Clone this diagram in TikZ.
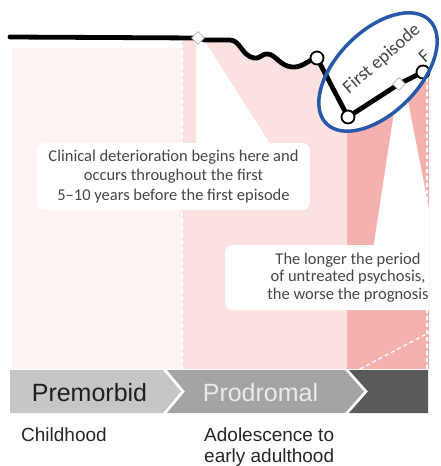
\documentclass[tikz,border=0pt]{standalone}
\usepackage{fontspec}
\setmainfont{Carlito}
\newfontfamily\arialf{Liberation Sans}
\usetikzlibrary{shapes.geometric}

\definecolor{faintpink}{RGB}{253,243,243}
\definecolor{prodpink}{RGB}{252,225,225}
\definecolor{episodepink}{RGB}{244,177,173}
\definecolor{notegray}{RGB}{70,70,70}
\definecolor{barA}{RGB}{198,198,198}
\definecolor{barB}{RGB}{164,164,164}
\definecolor{barC}{RGB}{90,90,90}
\definecolor{ringblue}{RGB}{40,88,168}

\tikzset{
  curve/.style={line width=4.8pt, black, line join=round, line cap=round},
  ringmark/.style={circle, draw=black, line width=1.8pt, fill=white,
    minimum size=13pt, inner sep=0pt},
  diamark/.style={diamond, draw=black!30, line width=0.6pt, fill=white,
    minimum size=13pt, inner sep=0pt},
  callout/.style={fill=white, rounded corners=8pt, inner sep=0pt},
  notetext/.style={text=notegray, align=center},
  sep/.style={white, line width=1.3pt, dash pattern=on 4pt off 3pt},
  barlabel/.style={font=\arialf\fontsize{25}{30}\selectfont, inner sep=0pt},
  agelabel/.style={font=\arialf\fontsize{19}{23}\selectfont, text=black!85,
    inner sep=0pt, anchor=base west},
}

\begin{document}
\begin{tikzpicture}[x=1pt,y=-1pt]
\useasboundingbox (0,0) rectangle (441,466);

% positions of the course markers
\coordinate (lstart) at (10,37);
\coordinate (pd1) at (198,38);
\coordinate (pc1) at (317,58);
\coordinate (pc2) at (348,117);
\coordinate (pd2) at (399,84);
\coordinate (pc3) at (423,72);
\coordinate (lend) at (432,69);

\begin{scope}
  \clip (0,0) rectangle (429,466);
  % phase columns
  \fill[faintpink] (12,48) rectangle (182,369);
  \fill[prodpink] (182,41) -- (pd1) -- (205,40) -- (230,40)
    .. controls (240,40) and (242,56) .. (254,58)
    .. controls (261,59) and (262,53) .. (268,54)
    .. controls (276,55) and (280,66) .. (292,67)
    .. controls (302,68) and (308,60) .. (pc1)
    -- (pc2) -- (347,369) -- (182,369) -- cycle;
  \fill[episodepink] (347,117) -- (pc2) -- (pd2) -- (pc3) -- (lend)
    -- (432,369) -- (347,369) -- cycle;
  % dashed separators
  \draw[sep] (182,44) -- (182,369);
  \draw[sep] (427,78) -- (427,369);
  \draw[sep] (360,369) -- (430,332);
  % callout pointers and boxes
  \fill[white] (196,40) -- (196,150) -- (274,150) -- (204,40) -- cycle;
  \fill[white] (398,86) -- (373,250) -- (437,250) -- (405,86) -- cycle;
  \node[callout, minimum width=273pt, minimum height=67pt,
    notetext, font=\fontsize{16.5}{19.7}\selectfont] (note1) at (173.5,176.5)
    {Clinical deterioration begins here and\\occurs throughout the first\\5--10 years before the first episode};
  \node[callout, minimum width=246pt, minimum height=65pt,
    notetext, font=\fontsize{16.5}{17.6}\selectfont] (note2) at (348,277.5)
    {The longer the period\\of untreated psychosis,\\the worse the prognosis};
\end{scope}

% ring around the first episode
\fill[white, rotate around={45:(378,72)}] (378,72) ellipse [x radius=73pt, y radius=41pt];

% label of the next stage, cut at the edge
\begin{scope}
  \clip (0,0) rectangle (430,466);
  \node[rotate=42, text=notegray, font=\fontsize{18.5}{19}\selectfont,
    anchor=base west, inner sep=0pt] (nextlabel) at (425,64) {F};
\end{scope}

% course of illness
\draw[curve] (lstart) -- (pd1) -- (205,40) -- (230,40)
  .. controls (240,40) and (242,56) .. (254,58)
  .. controls (261,59) and (262,53) .. (268,54)
  .. controls (276,55) and (280,66) .. (292,67)
  .. controls (302,68) and (308,60) .. (pc1)
  -- (pc2) -- (pd2) -- (pc3);

\node[diamark] (d1) at (pd1) {};
\node[ringmark] (c1) at (pc1) {};
\node[ringmark] (c2) at (pc2) {};
\node[diamark] (d2) at (pd2) {};
\node[ringmark] (c3) at (pc3) {};

\node[rotate=41, text=notegray, font=\fontsize{18.5}{19}\selectfont,
  inner sep=0pt] (firstep) at (382,59) {First episode};

\draw[ringblue, line width=3.5pt, rotate around={45:(378,72)}]
  (378,72) ellipse [x radius=73pt, y radius=41pt];

% stage bar
\fill[barA] (10,370) -- (163,370) -- (181,391.5) -- (163,413) -- (10,413) -- cycle;
\fill[barB] (167,370) -- (345,370) -- (364,391.5) -- (345,413) -- (167,413)
  -- (185,391.5) -- cycle;
\fill[barC] (349,370) -- (428,370) -- (428,413) -- (349,413) -- (368,391.5) -- cycle;

\node[barlabel, text=black!88] (premorbid) at (89.5,392.5) {Premorbid};
\node[barlabel, text=black!8] (prodromal) at (260.5,392.5) {Prodromal};

\node[agelabel] (child) at (21,441.5) {Childhood};
\node[agelabel] (adol1) at (204,441.5) {Adolescence to};
\node[agelabel] (adol2) at (204,462.5) {early adulthood};
\end{tikzpicture}
\end{document}
